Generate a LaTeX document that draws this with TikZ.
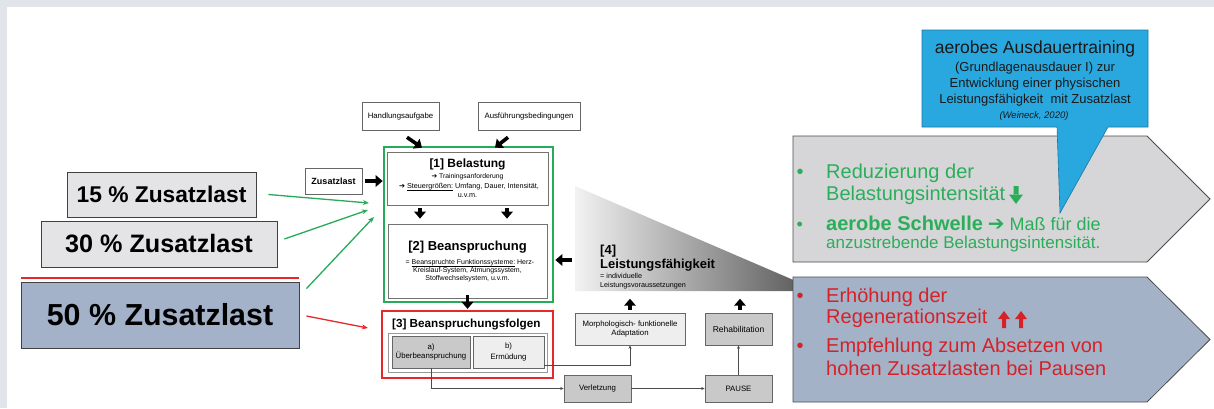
\documentclass[tikz,border=0pt]{standalone}
\usepackage{fontspec}
\setmainfont{Liberation Sans}
\newfontfamily\dejavu{DejaVu Sans}
\usetikzlibrary{arrows.meta}
\newcommand\myul[1]{\vtop{\hbox{#1}\kern0.2pt\hrule height 0.35pt}}
\definecolor{frame}{HTML}{E1E4E8}
\definecolor{lightbox}{HTML}{E4E4E6}
\definecolor{bluebox}{HTML}{A3B2C9}
\definecolor{gbox}{HTML}{27AA5A}
\definecolor{rbox}{HTML}{E5292B}
\definecolor{gtext}{HTML}{2AAE5A}
\definecolor{rtext}{HTML}{D42228}
\definecolor{callblue}{HTML}{29A8E0}
\definecolor{pentaA}{HTML}{D6D6D8}
\definecolor{pentaB}{HTML}{A4B2C8}
\definecolor{boxdark}{HTML}{C9C9C9}
\definecolor{boxlight}{HTML}{EEEEEE}
\definecolor{boxline}{HTML}{666666}
\begin{document}
\begin{tikzpicture}[x=1pt,y=-1pt,
  flow/.style={draw=boxline, line width=0.6pt, inner sep=0pt, align=center,
    font=\fontsize{7.8}{9}\selectfont},
  zbox/.style={draw=black!75, line width=0.8pt, inner sep=0pt, font=\bfseries},
  txt/.style={inner sep=0pt, anchor=base},
  ltxt/.style={inner sep=0pt, anchor=base west},
  bigarr/.style={line width=3.6pt, -{Triangle[length=7pt,width=11.5pt]}},
  thinarr/.style={draw=black!70, line width=0.6pt, -{Stealth[length=3.5pt,width=3pt]}},
  garr/.style={draw=gbox, line width=1.3pt, -{Stealth[length=6pt,width=5pt]}},
  rarr/.style={draw=rbox, line width=1.3pt, -{Stealth[length=6pt,width=5pt]}},
  pent/.style={draw=black!70, line width=0.8pt}]
\useasboundingbox (0,0) rectangle (1214,408);
\fill[white] (0,0) rectangle (1214,408);
\fill[frame] (0,0) rectangle (1214,7);
\fill[frame] (0,0) rectangle (7,408);

% ---------- left load boxes ----------
\node[zbox, fill=lightbox, minimum width=189pt, minimum height=45pt,
  font=\fontsize{22.8}{24}\selectfont\bfseries] (z15) at (161.5,194.5) {15 \% Zusatzlast};
\node[zbox, fill=lightbox, minimum width=236pt, minimum height=46pt,
  font=\fontsize{25.2}{26}\selectfont\bfseries] (z30) at (159,244) {30 \% Zusatzlast};
\draw[rbox, line width=1.5pt] (21,278) -- (299,278);
\node[zbox, fill=bluebox, minimum width=278pt, minimum height=66pt,
  font=\fontsize{30.4}{32}\selectfont\bfseries] (z50) at (160,315) {50 \% Zusatzlast};

% ---------- gradient triangle [4] ----------
\shade[left color=black!5, right color=black!68] (575,186) -- (575,291) -- (819,291) -- cycle;
\node[ltxt, font=\fontsize{13}{13}\selectfont\bfseries] (t4a) at (600,254) {[4]};
\node[ltxt, font=\fontsize{13}{13}\selectfont\bfseries] (t4b) at (600,268) {Leistungsfähigkeit};
\node[ltxt, font=\fontsize{7.2}{7}\selectfont] (t4c) at (600,278) {= individuelle};
\node[ltxt, font=\fontsize{7.2}{7}\selectfont] (t4d) at (600,287) {Leistungsvoraussetzungen};

% ---------- main flow ----------
\node[flow, fill=white, minimum width=77pt, minimum height=28pt] (hand) at (400.5,116) {Handlungsaufgabe};
\node[flow, fill=white, minimum width=102pt, minimum height=28pt] (ausf) at (529,116) {Ausführungsbedingungen};
\node[flow, fill=white, minimum width=57pt, minimum height=26pt, font=\fontsize{9}{9}\selectfont\bfseries] (zus) at (333.5,181) {Zusatzlast};

\node[draw=gbox, line width=2.2pt, inner sep=0pt, minimum width=169pt, minimum height=155pt] (green) at (468.5,224.5) {};
\node[draw=black!55, line width=0.7pt, fill=white, inner sep=0pt, minimum width=161pt, minimum height=53pt] (bel) at (467.5,178.5) {};
\node[txt, font=\fontsize{12}{12}\selectfont\bfseries] (belh) at (467.5,167) {[1] Belastung};
\node[txt, font=\fontsize{6.8}{7}\selectfont] (bel1) at (467.5,178) {{\dejavu ➔} Trainingsanforderung};
\node[txt, font=\fontsize{7.2}{7}\selectfont] (bel2) at (469,188) {{\dejavu ➔} \myul{Steuergrößen:} Umfang, Dauer, Intensität,};
\node[txt, font=\fontsize{7.2}{7}\selectfont] (bel3) at (467.5,197) {u.v.m.};

\node[draw=black!55, line width=0.7pt, fill=white, inner sep=0pt, minimum width=159pt, minimum height=74pt] (bean) at (467.5,261) {};
\node[txt, font=\fontsize{13}{13}\selectfont\bfseries] (beanh) at (467.5,250) {[2] Beanspruchung};
\node[txt, font=\fontsize{7}{7}\selectfont] (bean1) at (470,264) {= \myul{Beanspruchte Funktionssysteme:} Herz-};
\node[txt, font=\fontsize{7}{7}\selectfont] (bean2) at (467.5,272) {Kreislauf-System, Atmungssystem,};
\node[txt, font=\fontsize{7}{7}\selectfont] (bean3) at (467.5,280) {Stoffwechselsystem, u.v.m.};

\node[draw=rbox, line width=2.2pt, inner sep=0pt, minimum width=171pt, minimum height=67pt] (red) at (467.5,344.5) {};
\node[ltxt, font=\fontsize{11.7}{12}\selectfont\bfseries] (redh) at (392,327) {[3] Beanspruchungsfolgen};
\node[draw=black!40, line width=1pt, inner sep=0pt, minimum width=159pt, minimum height=39pt] (inner) at (467.5,352.5) {};
\node[flow, fill=boxdark, minimum width=78pt, minimum height=32pt] (a) at (431,352) {a)\\Überbeanspruchung};
\node[flow, fill=boxlight, minimum width=71pt, minimum height=32pt] (b) at (508.5,352) {b)\\[1.5pt]Ermüdung};

\node[flow, fill=boxlight, minimum width=110pt, minimum height=32pt] (morph) at (630,329) {Morphologisch- funktionelle\\Adaptation};
\node[flow, fill=boxdark, minimum width=67pt, minimum height=32pt, font=\fontsize{8.5}{9}\selectfont] (reha) at (738.5,329) {Rehabilitation};
\node[flow, fill=boxdark, minimum width=67pt, minimum height=27pt, font=\fontsize{7.8}{8}\selectfont] (verl) at (597.5,388.5) {Verletzung};
\node[flow, fill=boxdark, minimum width=67pt, minimum height=27pt, font=\fontsize{7.8}{8}\selectfont] (pause) at (738.5,388.5) {PAUSE};

% thick black arrows
\draw[bigarr] ([xshift=6.5pt,yshift=-7pt]hand.south) -- ([xshift=-45.5pt,yshift=4pt]bel.north);
\draw[bigarr] ([xshift=-21pt,yshift=-7pt]ausf.south) -- ([xshift=27.5pt,yshift=4pt]bel.north);
\draw[bigarr] ([xshift=3pt]zus.east) -- ([xshift=-4pt,yshift=-2.5pt]bel.west);
\draw[bigarr] ([xshift=-47.5pt,yshift=-3pt]bel.south) -- ([xshift=-47.5pt,yshift=5pt]bean.north);
\draw[bigarr] ([xshift=39.5pt,yshift=-3pt]bel.south) -- ([xshift=39.5pt,yshift=5pt]bean.north);
\coordinate (tri4) at (572,260);
\draw[bigarr] (tri4) -- ([xshift=8pt,yshift=1pt]bean.east);
\draw[bigarr] ([yshift=15pt]red.north) -- ([yshift=1pt]red.north);
\draw[bigarr] ([yshift=3pt]morph.north) -- ([yshift=14pt]morph.north);
\draw[bigarr] ([xshift=1.5pt,yshift=3pt]reha.north) -- ([xshift=1.5pt,yshift=14pt]reha.north);

% thin connectors
\draw[thinarr] (a.south) |- (verl.west);
\draw[thinarr] ([yshift=-13pt]b.east) -| (morph.south);
\draw[thinarr] (verl.east) -- (pause.west);
\draw[thinarr] (pause.north) -- (reha.south);

% green / red arrows from load boxes
\draw[garr] ([xshift=12pt]z15.east) -- ([xshift=-14pt,yshift=21.5pt]green.west);
\draw[garr] ([xshift=7pt,yshift=5pt]z30.east) -- ([xshift=-15pt,yshift=14.5pt]green.west);
\draw[garr] ([xshift=7pt,yshift=-7pt]z50.north east) -- ([xshift=-9pt,yshift=7.5pt]green.west);
\draw[rarr] ([xshift=7pt,yshift=-1pt]z50.east) -- ([xshift=-13pt,yshift=16.5pt]red.west);

% ---------- right side ----------
\filldraw[pent, fill=pentaA] (793,136) -- (1147,136) -- (1210,199) -- (1147,262) -- (793,262) -- cycle;
\filldraw[pent, fill=pentaB] (793,277) -- (1147,277) -- (1210,339.5) -- (1147,402) -- (793,402) -- cycle;

\node[ltxt, font=\fontsize{20}{20}\selectfont, text=gtext] (ub1) at (796.5,178) {•};
\node[ltxt, font=\fontsize{20}{20}\selectfont, text=gtext] (u1) at (826,178) {Reduzierung der};
\node[ltxt, font=\fontsize{20}{20}\selectfont, text=gtext] (u2) at (826,200) {Belastungsintensität};
\fill[gtext] (1013.5,186) rectangle (1018.5,195) (1009,194.5) -- (1023,194.5) -- (1016,204) -- cycle;
\node[ltxt, font=\fontsize{18}{18}\selectfont, text=gtext] (ub2) at (796.5,230) {•};
\node[ltxt, font=\fontsize{18}{18}\selectfont, text=gtext] (u3) at (826,230) {{\fontsize{20}{20}\selectfont\bfseries aerobe Schwelle} {\dejavu\bfseries\fontsize{20}{20}\selectfont ➔} Maß für die};
\node[ltxt, font=\fontsize{17}{17}\selectfont, text=gtext] (u4) at (826,248) {anzustrebende Belastungsintensität.};

\node[ltxt, font=\fontsize{20}{20}\selectfont, text=rtext] (lb1) at (796.5,302) {•};
\node[ltxt, font=\fontsize{20}{20}\selectfont, text=rtext] (l1) at (826,302) {Erhöhung der};
\node[ltxt, font=\fontsize{20}{20}\selectfont, text=rtext] (l2) at (826,323) {Regenerationszeit};
\fill[rtext] (1002,318) rectangle (1006,328) (998,319) -- (1010,319) -- (1004,311) -- cycle;
\fill[rtext] (1019,318) rectangle (1023,328) (1015,319) -- (1027,319) -- (1021,311) -- cycle;
\node[ltxt, font=\fontsize{20}{20}\selectfont, text=rtext] (lb2) at (796.5,352) {•};
\node[ltxt, font=\fontsize{20}{20}\selectfont, text=rtext] (l3) at (826,352) {Empfehlung zum Absetzen von};
\node[ltxt, font=\fontsize{20}{20}\selectfont, text=rtext] (l4) at (826,375) {hohen Zusatzlasten bei Pausen};

% callout
\filldraw[fill=callblue, draw=callblue!70!black, line width=0.6pt]
  (922,30) -- (1148,30) -- (1148,127) -- (1108,127) -- (1060,213) -- (1057,127) -- (922,127) -- cycle;
\node[txt, font=\fontsize{17.5}{18}\selectfont, text=black!90] (c1) at (1035,53) {aerobes Ausdauertraining};
\node[txt, font=\fontsize{13}{13}\selectfont, text=black!90] (c2) at (1035,71) {(Grundlagenausdauer I) zur};
\node[txt, font=\fontsize{13}{13}\selectfont, text=black!90] (c3) at (1035,87) {Entwicklung einer physischen};
\node[txt, font=\fontsize{13}{13}\selectfont, text=black!90] (c4) at (1035,103) {Leistungsfähigkeit\ \ mit Zusatzlast};
\node[txt, font=\fontsize{9.5}{10}\selectfont\itshape, text=black!90] (c5) at (1034,118) {(Weineck, 2020)};
\end{tikzpicture}
\end{document}
